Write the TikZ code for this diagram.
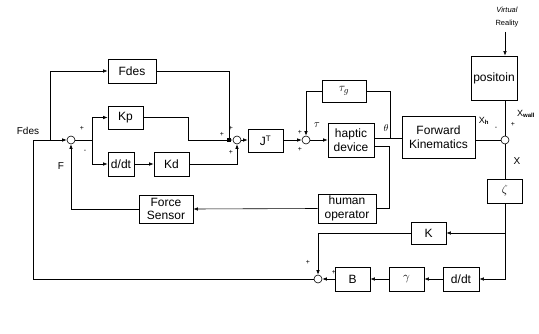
\documentclass[tikz,border=0pt]{standalone}
\usepackage{fontspec}
\setmainfont{Liberation Sans}
\usetikzlibrary{arrows.meta}
\begin{document}
\begin{tikzpicture}[x=1pt,y=-1pt,
  blk/.style={draw,line width=0.7pt,inner sep=0pt,align=center,font=\fontsize{12}{13.5}\selectfont},
  sumc/.style={draw,circle,line width=0.6pt,minimum size=8pt,inner sep=0pt},
  ln/.style={line width=0.6pt},
  arr/.style={ln,-{Latex[length=4.5pt,width=3.5pt]}},
  sgn/.style={font=\fontsize{7}{8}\selectfont,inner sep=0pt},
  lbl/.style={font=\fontsize{10}{11}\selectfont,inner sep=0pt}]
\useasboundingbox (0,0) rectangle (539,334);
% blocks
\node[blk,minimum width=48pt,minimum height=24pt] (fdes) at (132,71) {Fdes};
\node[blk,minimum width=35pt,minimum height=23pt] (kp) at (125.5,117.5) {Kp};
\node[blk,minimum width=26pt,minimum height=24pt] (ddt1) at (121,164) {d/dt};
\node[blk,minimum width=35pt,minimum height=24pt] (kd) at (171.5,164) {Kd};
\node[blk,minimum width=35pt,minimum height=23pt] (jt) at (265.5,140.5) {J$^{\mathrm{T}}$};
\node[blk,minimum width=44pt,minimum height=22pt,font=\fontsize{13}{14}\selectfont] (taug) at (344,91) {$\tau_g$};
\node[blk,minimum width=46pt,minimum height=34pt] (hap) at (351,140) {haptic\\device};
\node[blk,minimum width=73pt,minimum height=42pt] (fk) at (438.5,137) {Forward\\Kinematics};
\node[blk,minimum width=46pt,minimum height=44pt] (pos) at (494,78) {positoin};
\node[blk,minimum width=35pt,minimum height=24pt] (zeta) at (505,191) {$\zeta$};
\node[blk,minimum width=35pt,minimum height=22pt] (k) at (428.5,233) {K};
\node[blk,minimum width=36pt,minimum height=24pt] (ddt2) at (461,279) {d/dt};
\node[blk,minimum width=35pt,minimum height=24pt] (gam) at (406.5,279) {$\gamma$};
\node[blk,minimum width=35pt,minimum height=24pt] (b) at (352.5,279) {B};
\node[blk,minimum width=54pt,minimum height=28pt] (fs) at (166,209) {Force\\Sensor};
\node[blk,minimum width=58pt,minimum height=29pt] (hum) at (347,208.5) {human\\operator};
% sums
\node[sumc] (s1) at (71,140) {};
\node[sumc] (s2) at (237,140) {};
\node[sumc] (s3) at (306,140) {};
\node[sumc] (s4) at (505,140) {};
\node[sumc] (s5) at (318,279) {};
\node[fill=black,minimum size=4.5pt,inner sep=0pt] (jn) at (229,140) {};
% helper coordinates
\coordinate (cl) at (33,140);
\coordinate (cf) at (50,140);
\coordinate (br1) at (92,140);
\coordinate (kpc) at (188,117.5);
\coordinate (ht) at (390,138);
\coordinate (hb) at (389,146);
\coordinate (zb) at (505,233);
\coordinate (vr) at (505,32);
% connectors
\draw[arr] (s5.west) -| (cl) -- (s1.west);
\draw[arr] (cf) |- (fdes.west);
\draw[ln] (fdes.east) -| (jn.north);
\draw[ln] (kp.east) -- (kpc) |- (jn.west);
\draw[arr] (jn.east) -- (s2.west);
\draw[ln] (s1.east) -- (br1);
\draw[arr] (br1) |- (kp.west);
\draw[arr] (br1) |- (ddt1.west);
\draw[arr] (ddt1) -- (kd);
\draw[arr] (kd.east) -| (s2.south);
\draw[arr] (s2.east) -- (jt.west |- s2);
\draw[arr] (jt.east |- s3) -- (s3.west);
\draw[arr] (s3.east) -- (hap.west |- s3);
\draw[arr] (taug.west) -| (s3.north);
\draw[ln] (hap.east |- ht) -- (fk.west |- ht);
\draw[ln] (ht) |- (taug.east);
\draw[ln] (hap.east |- hb) -- (hb) |- (hum.east);
\draw[arr] (hum.west) -- (fs.east);
\draw[arr] (fs.west) -| (s1.south);
\draw[ln] (fk.east |- s4) -- (s4.west);
\draw[ln] (s4.north |- pos.south) -- (s4.north);
\draw[arr] (vr) -- (vr |- pos.north);
\draw[ln] (s4.south) -- (zeta.north);
\draw[arr] (zeta.south) |- (ddt2.east);
\draw[arr] (zb) -- (k.east);
\draw[arr] (ddt2) -- (gam);
\draw[arr] (gam) -- (b);
\draw[arr] (b) -- (s5.east);
\draw[arr] (k.west) -| (s5.north);
% labels
\node[lbl] at (28,131) {Fdes};
\node[lbl] at (61,166) {F};
\node[sgn] at (82,128) {+};
\node[sgn] at (85,151) {-};
\node[sgn] at (231,128) {+};
\node[sgn] at (222,134) {+};
\node[sgn] at (231,152) {+};
\node[sgn] at (300,132) {+};
\node[sgn] at (300,149) {+};
\node[lbl,font=\fontsize{11}{12}\selectfont] at (317,125) {$\tau$};
\node[lbl] at (386,128) {$\theta$};
\node[lbl,font=\fontsize{9}{10}\selectfont] at (484,121) {X$_{\mathbf{h}}$};
\node[sgn] at (496,128) {-};
\node[sgn] at (513,124) {+};
\node[lbl,font=\fontsize{9}{10}\selectfont] at (526,114) {X$_{\mathbf{wall}}$};
\node[lbl] at (517,161) {X};
\node[sgn] at (308,262) {+};
\node[sgn] at (334,272) {+};
\node[font=\fontsize{7.5}{8}\selectfont\itshape,inner sep=0pt] at (507,10) {Virtual};
\node[font=\fontsize{7.5}{8}\selectfont,inner sep=0pt] at (507,24) {Reality};
\end{tikzpicture}
\end{document}
